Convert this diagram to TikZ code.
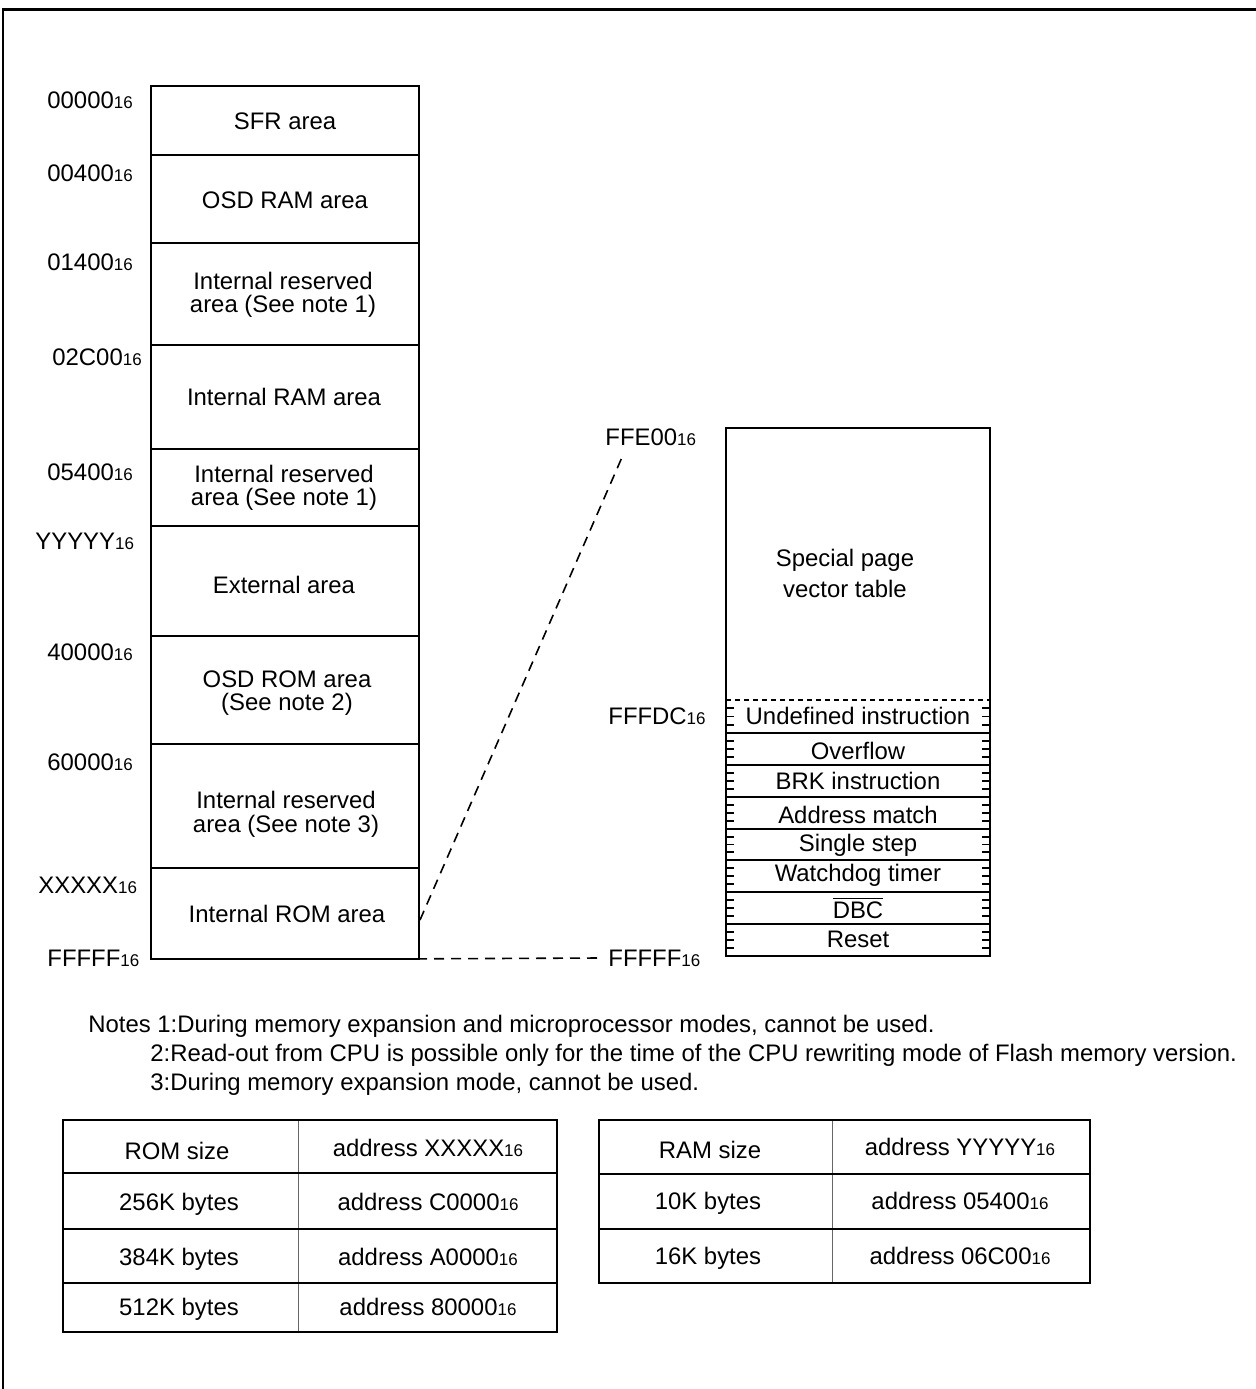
\documentclass[tikz,border=0pt]{standalone}
\usepackage{fontspec}
\setmainfont{Liberation Sans}
\newcommand{\hexs}[1]{#1{\fontsize{8.5}{9}\selectfont 16}}
\begin{document}
\begin{tikzpicture}[x=0.5pt,y=-0.5pt,
  every node/.style={font=\fontsize{11.95}{11.8}\selectfont, inner sep=0pt},
  box/.style={line width=1pt},
  frame/.style={line width=1.3pt},
  lbl/.style={anchor=west},
  txt/.style={align=center},
  conn/.style={line width=0.8pt, dash pattern=on 5pt off 3.5pt},
  dotline/.style={line width=0.7pt, dash pattern=on 2.5pt off 2pt},
  tickln/.style={line width=0.8pt},
  tabline/.style={line width=1pt},
  tabdiv/.style={line width=0.5pt, draw=black!60},
  ]
\useasboundingbox (0,0) rectangle (1256,1389);
\draw[frame] (3,1389) -- (3,9.5) -- (1256,9.5);

% ---------- left memory map ----------
\draw[box] (151,86) rectangle (419,959);
\foreach \yy in {155,243,345,449,526,636,744,868}
  \draw[box] (151,\yy) -- (419,\yy);

\node[txt] (sfr)  at (285,121) {SFR area};
\node[txt] (osdram) at (285,200) {OSD RAM area};
\node[txt] (res1) at (283,295) {Internal reserved\\area (See note 1)};
\node[txt] (iram) at (284,397) {Internal RAM area};
\node[txt] (res2) at (284,488) {Internal reserved\\area (See note 1)};
\node[txt] (ext)  at (284,585) {External area};
\node[txt] (osdrom) at (287,693) {OSD ROM area\\(See note 2)};
\node[txt] (res3) at (286,814) {Internal reserved\\area (See note 3)};
\node[txt] (irom) at (287,914) {Internal ROM area};

\node[lbl] (a1) at (47,100) {\hexs{00000}};
\node[lbl] (a2) at (47,173) {\hexs{00400}};
\node[lbl] (a3) at (47,262) {\hexs{01400}};
\node[lbl] (a4) at (52,357) {\hexs{02C00}};
\node[lbl] (a5) at (47,472) {\hexs{05400}};
\node[lbl] (a6) at (35,541) {\hexs{YYYYY}};
\node[lbl] (a7) at (47,652) {\hexs{40000}};
\node[lbl] (a8) at (47,762) {\hexs{60000}};
\node[lbl] (a9) at (38,885) {\hexs{XXXXX}};
\node[lbl] (a10) at (47,958) {\hexs{FFFFF}};

% ---------- right vector table ----------
\draw[box] (726,428) rectangle (990,956);
\draw[dotline] (726,700) -- (990,700);
\foreach \yy in {733,765,797,829,860,892,924}
  \draw[box] (726,\yy) -- (990,\yy);
\foreach \ya/\yb in {700/733,733/765,765/797,797/829,829/860,860/892,892/924,924/956}{
  \foreach \k in {1,2,3}{
    \draw[tickln] (726,{\ya+(\yb-\ya)*\k/4}) -- (734,{\ya+(\yb-\ya)*\k/4});
    \draw[tickln] (982,{\ya+(\yb-\ya)*\k/4}) -- (990,{\ya+(\yb-\ya)*\k/4});
  }
}
\node[txt, font=\fontsize{11.95}{15.5}\selectfont] (spv) at (845,573) {Special page\\vector table};
\node[txt] (v1) at (858,716) {Undefined instruction};
\node[txt] (v2) at (858,751) {Overflow};
\node[txt] (v3) at (858,781) {BRK instruction};
\node[txt] (v4) at (858,815) {Address match};
\node[txt] (v5) at (858,845) {Single step};
\node[txt] (v6) at (858,875) {Watchdog timer};
\node[txt] (v7) at (858,908) {$\overline{\hbox{DBC}}$};
\node[txt] (v8) at (858,939) {Reset};

\node[lbl] (r1) at (605,437) {\hexs{FFE00}};
\node[lbl] (r2) at (608,716) {\hexs{FFFDC}};
\node[lbl] (r3) at (608,958) {\hexs{FFFFF}};

% connectors
\coordinate (romtop) at (420,920);
\coordinate (vtop) at (623,455);
\coordinate (rombot) at (383,959);
\draw[conn] (romtop) -- (vtop);
\draw[conn] (rombot) -- ([xshift=-5pt]r3.west);

% ---------- notes ----------
\node[lbl] (n1) at (88,1026) {Notes 1:During memory expansion and microprocessor modes, cannot be used.};
\node[lbl] (n2) at (150,1055) {2:Read-out from CPU is possible only for the time of the CPU rewriting mode of Flash memory version.};
\node[lbl] (n3) at (150,1084) {3:During memory expansion mode, cannot be used.};

% ---------- ROM table ----------
\draw[tabdiv] (298,1120) -- (298,1332);
\foreach \yy in {1173,1229,1283}
  \draw[tabline] (63,\yy) -- (557,\yy);
\draw[tabline] (63,1120) rectangle (557,1332);
\node (t11) at (177,1151) {ROM size};
\node (t12) at (428,1148) {address \hexs{XXXXX}};
\node (t21) at (179,1204) {256K bytes};
\node (t22) at (428,1202) {address \hexs{C0000}};
\node (t31) at (179,1259) {384K bytes};
\node (t32) at (428,1257) {address \hexs{A0000}};
\node (t41) at (179,1309) {512K bytes};
\node (t42) at (428,1307) {address \hexs{80000}};

% ---------- RAM table ----------
\draw[tabdiv] (832,1120) -- (832,1283);
\foreach \yy in {1174,1229}
  \draw[tabline] (599,\yy) -- (1090,\yy);
\draw[tabline] (599,1120) rectangle (1090,1283);
\node (u11) at (710,1150) {RAM size};
\node (u12) at (960,1147) {address \hexs{YYYYY}};
\node (u21) at (708,1203) {10K bytes};
\node (u22) at (960,1201) {address \hexs{05400}};
\node (u31) at (708,1258) {16K bytes};
\node (u32) at (960,1256) {address \hexs{06C00}};
\end{tikzpicture}
\end{document}
